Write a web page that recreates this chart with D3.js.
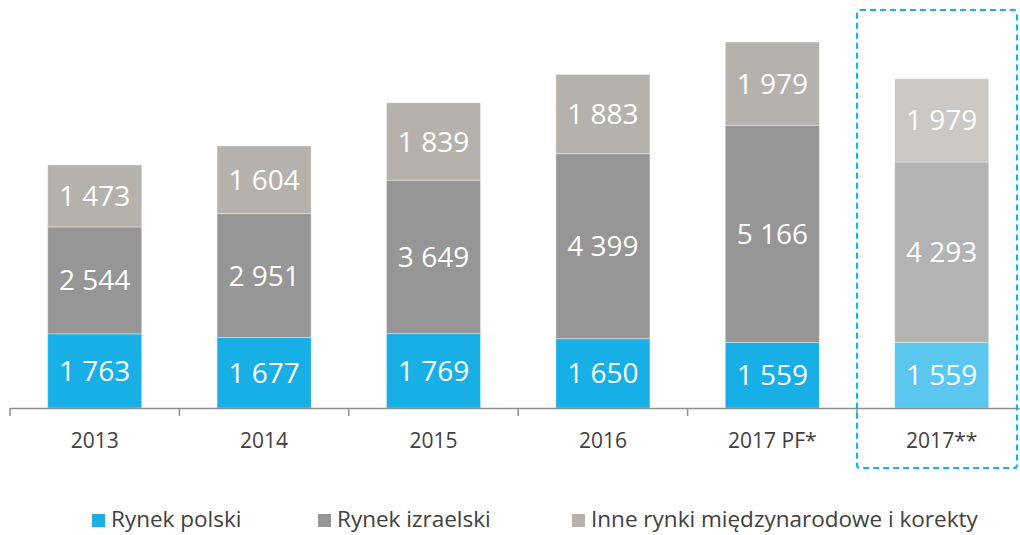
<!DOCTYPE html>
<html lang="pl">
<head>
    <meta charset="UTF-8">
    <title>Przychody wg rynków</title>
    <script src="https://d3js.org/d3.v7.min.js"></script>
    <style>
        body { margin: 0; background: #fff; }
        svg { font-family: "Open Sans", sans-serif; }
    </style>
</head>
<body>
    <svg id="chart" width="1020" height="535"></svg>
<script>
// data
const categories = ['2013', '2014', '2015', '2016', '2017 PF*', '2017**'];
const rynekPolski = [1763, 1677, 1769, 1650, 1559, 1559];
const rynekIzraelski = [2544, 2951, 3649, 4399, 5166, 4293];
const inneRynki = [1473, 1604, 1839, 1883, 1979, 1979];
const seriesNames = ['Rynek polski', 'Rynek izraelski', 'Inne rynki międzynarodowe i korekty'];

const colors = ['#18afe6', '#969696', '#b5b2ae'];
const colorsLight = ['#5bc6ee', '#b3b3b3', '#cbc8c5'];

const baseY = 408;
const svg = d3.select('#chart');

const rows = categories.map((c, i) => ({
    cat: c,
    polski: rynekPolski[i],
    izraelski: rynekIzraelski[i],
    inne: inneRynki[i]
}));
const stack = d3.stack().keys(['polski', 'izraelski', 'inne'])(rows);

const x = d3.scaleBand()
    .domain(categories)
    .range([10, 10 + 6 * 169.4])
    .paddingInner(0.445)
    .paddingOuter(0.2225);

const y = d3.scaleLinear()
    .domain([0, 9703])
    .range([baseY, 0]);

const fmt = d3.formatLocale({ decimal: ',', thousands: '\u00a0', grouping: [3], currency: ['', ''] }).format(',d');

// bars
stack.forEach((layer, k) => {
    const g = svg.append('g');
    g.selectAll('rect')
        .data(layer)
        .enter()
        .append('rect')
        .attr('x', d => x(d.data.cat))
        .attr('y', d => y(d[1]))
        .attr('width', x.bandwidth())
        .attr('height', d => y(d[0]) - y(d[1]))
        .attr('fill', (d, i) => i === categories.length - 1 ? colorsLight[k] : colors[k])
        .attr('stroke', 'rgba(255,255,255,0.35)')
        .attr('stroke-width', 1);

    g.selectAll('text')
        .data(layer)
        .enter()
        .append('text')
        .attr('x', d => x(d.data.cat) + x.bandwidth() / 2)
        .attr('y', d => (y(d[0]) + y(d[1])) / 2)
        .attr('dy', '0.36em')
        .attr('text-anchor', 'middle')
        .attr('fill', '#fff')
        .attr('font-size', 28)
        .text(d => fmt(d[1] - d[0]));
});

// axis
const axis = svg.append('g');
const step = x.step();
const edge = c => x(c) - (step - x.bandwidth()) / 2;
axis.append('line')
    .attr('x1', 10).attr('x2', 1020)
    .attr('y1', baseY + 0.5).attr('y2', baseY + 0.5)
    .attr('stroke', '#8f8f8f').attr('stroke-width', 1.5);
axis.selectAll('.tick')
    .data(categories)
    .enter()
    .append('line')
    .attr('class', 'tick')
    .attr('x1', d => edge(d)).attr('x2', d => edge(d))
    .attr('y1', baseY).attr('y2', baseY + 8)
    .attr('stroke', '#8f8f8f').attr('stroke-width', 1.5);
axis.selectAll('text')
    .data(categories)
    .enter()
    .append('text')
    .attr('x', d => x(d) + x.bandwidth() / 2)
    .attr('y', 440)
    .attr('dy', '0.36em')
    .attr('text-anchor', 'middle')
    .attr('fill', '#404040')
    .attr('font-size', 21)
    .text(d => d);

// dashed highlight box around the last column
const lastEdge = edge(categories[categories.length - 1]);
svg.append('rect')
    .attr('x', lastEdge)
    .attr('y', 10)
    .attr('width', 1017 - lastEdge)
    .attr('height', 458)
    .attr('rx', 3)
    .attr('fill', 'none')
    .attr('stroke', '#1ab0e8')
    .attr('stroke-width', 2.2)
    .attr('stroke-dasharray', '6,4');

// legend
const legendX = [92, 318, 572];
const legend = svg.append('g');
seriesNames.forEach((name, i) => {
    legend.append('rect')
        .attr('x', legendX[i]).attr('y', 514)
        .attr('width', 13).attr('height', 13)
        .attr('fill', colors[i]);
    legend.append('text')
        .attr('x', legendX[i] + 19)
        .attr('y', 519)
        .attr('dy', '0.36em')
        .attr('fill', '#404040')
        .attr('font-size', 22.5)
        .text(name);
});
</script>
</body>
</html>
